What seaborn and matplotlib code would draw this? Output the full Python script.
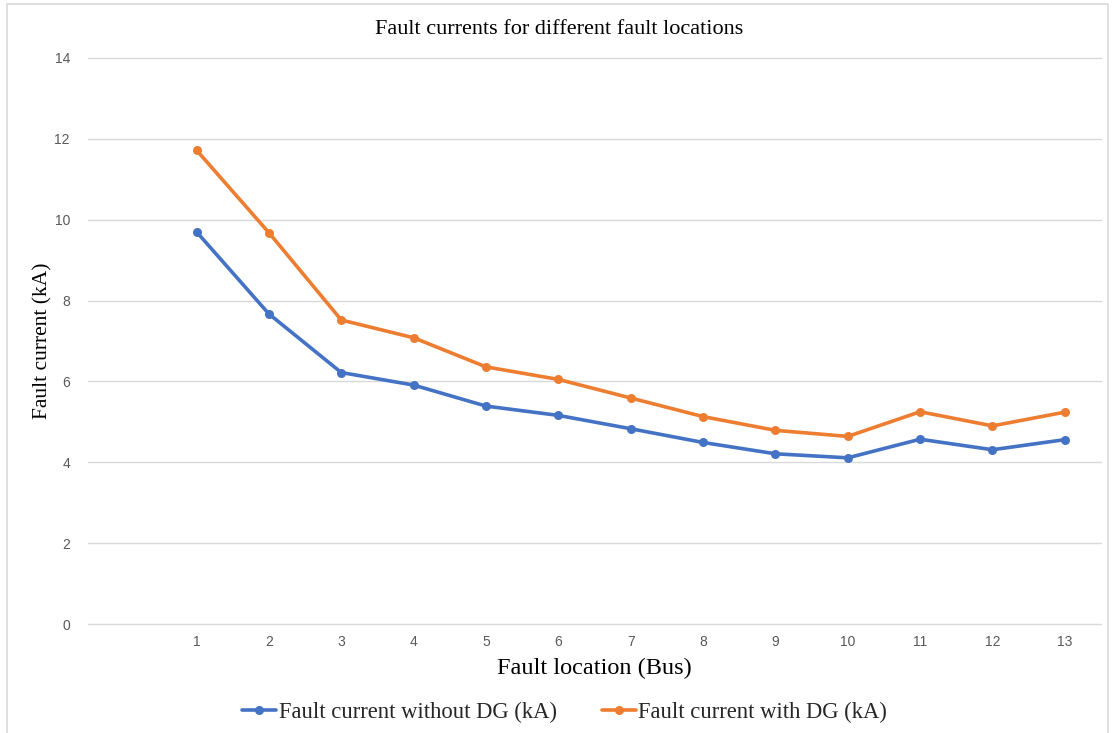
import matplotlib
matplotlib.use("Agg")
import matplotlib.pyplot as plt
import seaborn as sns
import pandas as pd
from matplotlib.patches import Rectangle

bus = [1, 2, 3, 4, 5, 6, 7, 8, 9, 10, 11, 12, 13]
without_dg = [9.70, 7.67, 6.22, 5.91, 5.39, 5.16, 4.83, 4.49, 4.21, 4.11, 4.57, 4.31, 4.56]
with_dg = [11.72, 9.68, 7.52, 7.08, 6.36, 6.05, 5.59, 5.13, 4.79, 4.64, 5.25, 4.90, 5.24]
series_names = ["Fault current without DG (kA)", "Fault current with DG (kA)"]
colors = ["#4472C4", "#ED7D31"]
y_ticks = [0, 2, 4, 6, 8, 10, 12, 14]

df = pd.concat([
    pd.DataFrame({"Bus": bus, "Current": without_dg, "Series": series_names[0]}),
    pd.DataFrame({"Bus": bus, "Current": with_dg, "Series": series_names[1]}),
])

sns.set_theme(style="white")
plt.rcParams["font.family"] = ["Liberation Serif", "DejaVu Serif"]

fig = plt.figure(figsize=(11.18, 7.33), dpi=100)
ax = fig.add_axes([0.0787, 0.1487, 0.9061, 0.7722])

sns.lineplot(data=df, x="Bus", y="Current", hue="Series", hue_order=series_names,
             palette=colors, marker="o", markersize=6.5, markeredgewidth=0,
             linewidth=2.6, ax=ax)

ax.set_xlim(-0.5, 13.5)
ax.set_ylim(0, 14)
ax.set_xticks(bus)
ax.set_yticks(y_ticks)
ax.grid(axis="y", color="#d9d9d9", linewidth=1.0)
ax.grid(axis="x", visible=False)
ax.set_axisbelow(True)
for gl in ax.get_ygridlines():
    gl.set_clip_on(False)
for s in ax.spines.values():
    s.set_visible(False)
ax.tick_params(axis="both", length=0, labelsize=10, labelcolor="#595959")
ax.tick_params(axis="x", pad=8)
ax.tick_params(axis="y", pad=13)
for lbl in ax.get_xticklabels() + ax.get_yticklabels():
    lbl.set_fontfamily("Liberation Sans")

ax.set_xlabel("Fault location (Bus)", fontsize=17.5, color="#000000", labelpad=6)
ax.set_ylabel("Fault current (kA)", fontsize=15.5, color="#000000")
ax.yaxis.set_label_coords((43 - 88) / 1013, 0.5)
ax.yaxis.label.set_verticalalignment("center")
fig.text(0.5, 1 - 29 / 733, "Fault currents for different fault locations",
         ha="center", va="center", fontsize=16, color="#000000")

handles, labels = ax.get_legend_handles_labels()
ax.legend(handles, labels, loc="center", ncol=2, frameon=False, fontsize=16.3,
          handlelength=1.5, handletextpad=0.1, columnspacing=2.0)
leg = ax.get_legend()
leg.set_bbox_to_anchor((0.505, 1 - 712 / 733), transform=fig.transFigure)

fig.patches.append(Rectangle((7 / 1118, -0.01), (1108 - 7) / 1118, 1 - 4 / 733 + 0.01,
                             transform=fig.transFigure, fill=False,
                             edgecolor="#d9d9d9", linewidth=1.2))

fig.savefig("out.png", dpi=100)
